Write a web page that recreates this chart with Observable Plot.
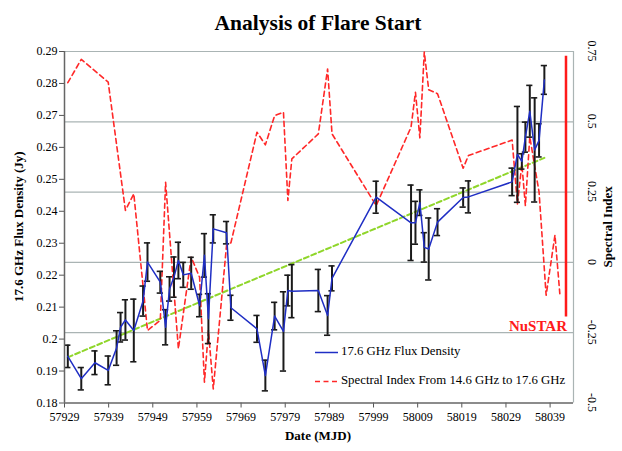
<!DOCTYPE html>
<html><head><meta charset="utf-8">
<script src="https://cdn.jsdelivr.net/npm/d3@7"></script>
<script src="https://cdn.jsdelivr.net/npm/@observablehq/plot@0.6"></script>
<style>body{margin:0;background:#fff;} svg{display:block;} #chart svg text{font-family:'Liberation Serif','Times New Roman',serif !important;}</style>
</head><body><div id="chart"></div>
<script>
// ---- data ----
const fluxMJD = [57929.75,57932.8,57935.9,57938.9,57940.8,57941.7,57942.8,57944.7,57946.8,57947.8,57950.7,57951.9,57952.8,57953.8,57954.8,57955.9,57957.7,57959.6,57960.7,57961.6,57962.7,57965.7,57966.7,57972.6,57974.5,57976.6,57978.6,57979.6,57980.5,57986.5,57988.6,57989.6,57999.6,58007.5,58008.5,58009.5,58010.5,58011.5,58013.5,58019.3,58020.5,58030.4,58031.6,58032.6,58033.4,58034.4,58035.5,58036.5,58037.7];
const flux = [0.1946,0.1876,0.1926,0.1902,0.1972,0.2037,0.2060,0.2027,0.2119,0.2241,0.2178,0.2037,0.2157,0.2194,0.2246,0.2201,0.2206,0.2105,0.2262,0.2064,0.2345,0.2333,0.2098,0.2032,0.1886,0.2072,0.2024,0.2152,0.2150,0.2152,0.2074,0.2190,0.2444,0.2364,0.2364,0.2427,0.2287,0.2282,0.2366,0.2443,0.2445,0.2492,0.2578,0.2556,0.2632,0.2713,0.2592,0.2622,0.2811];
const fluxErr = [0.0035,0.0035,0.0037,0.0045,0.0054,0.0046,0.0063,0.0098,0.0047,0.0060,0.0034,0.0055,0.0038,0.0063,0.0057,0.0039,0.0050,0.0035,0.0068,0.0078,0.0044,0.0035,0.0039,0.0042,0.0048,0.0043,0.0124,0.0048,0.0083,0.0066,0.0062,0.0039,0.0050,0.0118,0.0067,0.0040,0.0046,0.0097,0.0042,0.0030,0.0050,0.0043,0.0150,0.0024,0.0047,0.0081,0.0163,0.0052,0.0045];
const idxMJD = [57929.75,57932.8,57938.9,57942.8,57944.7,57947.8,57950.7,57951.9,57954.8,57957.7,57959.6,57960.7,57961.6,57962.7,57965.7,57966.7,57972.6,57974.5,57976.6,57978.6,57979.6,57980.5,57986.5,57988.6,57989.6,57999.6,58007.5,58008.5,58009.5,58010.5,58011.5,58013.5,58019.3,58020.5,58030.4,58031.6,58032.6,58033.4,58034.4,58035.5,58036.5,58038.1,58040.1,58041.2];
const specIdx = [0.639,0.722,0.641,0.185,0.244,-0.242,-0.206,0.285,-0.307,0.0185,-0.053,-0.426,-0.242,-0.45,0.06,0.07,0.463,0.418,0.522,0.534,0.220,0.368,0.457,0.688,0.457,0.202,0.481,0.605,0.443,0.748,0.614,0.600,0.335,0.380,0.435,0.208,0.349,0.202,0.447,0.343,0.250,-0.117,0.097,-0.111];
const trendMJD = [57929.75, 58037.7];
const trendFlux = [0.1943, 0.2567];
const nustarMJD = 58042.6;
const nustarFlux = [0.2885, 0.2069];
const xTicks = [57929,57939,57949,57959,57969,57979,57989,57999,58009,58019,58029,58039];
const leftTicks = [0.18,0.19,0.2,0.21,0.22,0.23,0.24,0.25,0.26,0.27,0.28,0.29];
const rightTicks = [-0.5,-0.25,0,0.25,0.5,0.75];
const rightLabels = ["-0.5","-0.25","0","0.25","0.5","0.75"];
const xDomain = [57929, 58044.3];
const fluxDomain = [0.18, 0.29];
const idxDomain = [-0.5, 0.75];

// ---- build ----
const W = 622, H = 451, mL = 64, mR = 49, mT = 51, mB = 48.5;
const FONT = "'Liberation Serif','Times New Roman',serif";
const idxToFlux = v => fluxDomain[0] + (v - idxDomain[0]) / (idxDomain[1] - idxDomain[0]) * (fluxDomain[1] - fluxDomain[0]);
const fluxData = fluxMJD.map((d, i) => ({mjd: d, flux: flux[i], lo: flux[i] - fluxErr[i], hi: flux[i] + fluxErr[i]}));
const idxData = idxMJD.map((d, i) => ({mjd: d, y: idxToFlux(specIdx[i])}));
const trendData = trendMJD.map((d, i) => ({mjd: d, y: trendFlux[i]}));
const nustarData = [{x: nustarMJD, y1: nustarFlux[0], y2: nustarFlux[1]}];
const cap = 0.7;
const grid = "#aab4b4";

const plot = Plot.plot({
  width: W, height: H, marginLeft: mL, marginRight: mR, marginTop: mT, marginBottom: mB,
  style: "font-family: 'Liberation Serif', serif; font-size: 12px; background: white; color: #000;",
  x: {domain: xDomain},
  y: {domain: fluxDomain},
  marks: [
    Plot.ruleY(rightTicks.slice(1, 5).map(idxToFlux), {stroke: grid, strokeWidth: 1.2}),
    Plot.ruleY([fluxDomain[1]], {stroke: grid, strokeWidth: 1.2}),
    Plot.ruleX([xDomain[1]], {stroke: grid, strokeWidth: 1.2}),
    Plot.line(trendData, {x: "mjd", y: "y", stroke: "#8fd62a", strokeWidth: 2, strokeDasharray: "5,3"}),
    Plot.line(idxData, {x: "mjd", y: "y", stroke: "#ff2828", strokeWidth: 1.6, strokeDasharray: "5,3.5"}),
    Plot.ruleX(fluxData, {x: "mjd", y1: "lo", y2: "hi", stroke: "#1a1a1a", strokeWidth: 2}),
    Plot.ruleY(fluxData, {y: "hi", x1: d => d.mjd - cap, x2: d => d.mjd + cap, stroke: "#1a1a1a", strokeWidth: 1.6}),
    Plot.ruleY(fluxData, {y: "lo", x1: d => d.mjd - cap, x2: d => d.mjd + cap, stroke: "#1a1a1a", strokeWidth: 1.6}),
    Plot.line(fluxData, {x: "mjd", y: "flux", stroke: "#1f2ec4", strokeWidth: 1.5}),
    Plot.ruleX(nustarData, {x: "x", y1: "y1", y2: "y2", stroke: "#ff1a1a", strokeWidth: 2.5}),
    Plot.text(nustarData, {x: "x", y: "y2", text: () => "NuSTAR", textAnchor: "end", dy: 9, dx: 1, fill: "#ff1a1a", fontWeight: "bold", fontSize: 15}),
    Plot.axisX({ticks: xTicks, tickFormat: d => String(d), tickSize: 5, tickPadding: 4, label: null, stroke: "#555", fontSize: 12}),
    Plot.axisY({ticks: leftTicks, tickFormat: d => String(d), tickSize: 5, tickPadding: 2, label: null, stroke: "#555", fontSize: 12}),
    Plot.ruleX([xDomain[0]], {stroke: "#666", strokeWidth: 1.5}),
    Plot.ruleY([fluxDomain[0]], {stroke: "#666", strokeWidth: 1.5})
  ]
});

const svg = d3.select(plot);
const sy = plot.scale("y");
function txt(x, y, s, opts = {}) {
  const t = svg.append("text").attr("font-family", FONT).attr("fill", opts.fill || "#000")
    .attr("font-size", opts.size || 12).attr("text-anchor", opts.anchor || "middle")
    .attr("dominant-baseline", opts.baseline || "middle").text(s);
  if (opts.weight) t.attr("font-weight", opts.weight);
  if (opts.rotate) t.attr("transform", `translate(${x},${y}) rotate(${opts.rotate})`);
  else t.attr("x", x).attr("y", y);
  return t;
}
// right axis labels
rightTicks.forEach((v, i) => txt(591, sy.apply(idxToFlux(v)), rightLabels[i], {rotate: 90}));
const midY = (mT + (H - mB)) / 2;
txt(609, midY, "Spectral Index", {rotate: -90, size: 13, weight: "bold"});
txt(20, midY, "17.6 GHz Flux Density (Jy)", {rotate: -90, size: 13, weight: "bold"});
txt(318, 437, "Date (MJD)", {size: 13, weight: "bold"});
txt(318, 25, "Analysis of Flare Start", {size: 21.5, weight: "bold"});
// legend
svg.append("line").attr("x1", 315).attr("x2", 338).attr("y1", 352.5).attr("y2", 352.5).attr("stroke", "#1f2ec4").attr("stroke-width", 1.5);
txt(341, 352.5, "17.6 GHz Flux Density", {anchor: "start", size: 12.8});
svg.append("line").attr("x1", 315).attr("x2", 338).attr("y1", 381.5).attr("y2", 381.5).attr("stroke", "#ff2828").attr("stroke-width", 1.6).attr("stroke-dasharray", "5,3.5");
txt(341, 381.5, "Spectral Index From 14.6 GHz to 17.6 GHz", {anchor: "start", size: 12.8});

document.getElementById("chart").appendChild(plot);
</script></body></html>
